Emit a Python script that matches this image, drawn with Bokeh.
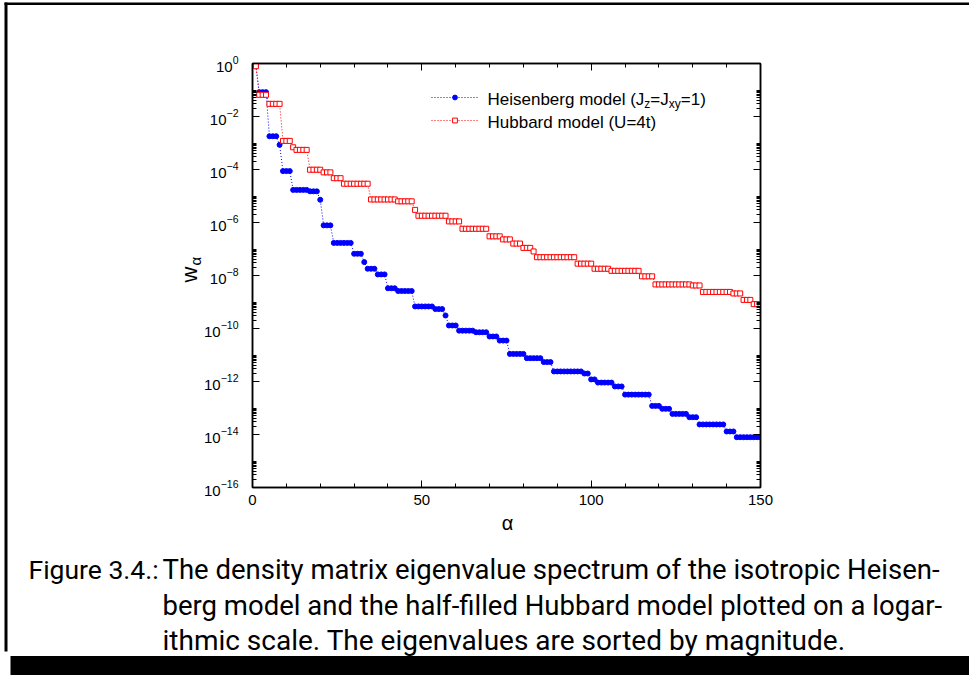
import math
from bokeh.plotting import figure
from bokeh.models import (Range1d, LinearAxis, LogAxis, FixedTicker, SingleIntervalTicker,
                          Label, Legend, LegendItem, BoxAnnotation, CustomJSTickFormatter,
                          LogTickFormatter, GridBox)
from bokeh.embed import file_html
from bokeh.resources import INLINE

# ---------------- data ----------------
alpha = list(range(1, 151))

heisenberg = [
    8.3e-1,
    8.3e-2, 8.3e-2, 8.3e-2,
    1.8e-3, 1.8e-3, 1.8e-3,
    8.5e-4,
    8.7e-5, 8.7e-5, 8.7e-5,
    1.7e-5, 1.7e-5, 1.7e-5, 1.7e-5, 1.7e-5,
    1.5e-5, 1.5e-5, 1.5e-5,
    7.2e-6,
    7.8e-7, 7.8e-7, 7.8e-7,
    1.7e-7, 1.7e-7, 1.7e-7, 1.7e-7, 1.7e-7, 1.7e-7,
    6.6e-8, 6.6e-8, 6.6e-8,
    3.2e-8,
    1.8e-8, 1.8e-8, 1.8e-8,
    1.1e-8, 1.1e-8, 1.1e-8,
    3.3e-9, 3.3e-9, 3.3e-9,
    2.6e-9, 2.6e-9, 2.6e-9, 2.6e-9, 2.6e-9,
    6.8e-10, 6.8e-10, 6.8e-10, 6.8e-10, 6.8e-10, 6.8e-10,
    5.4e-10, 5.4e-10, 5.4e-10,
    3.1e-10,
    1.3e-10, 1.3e-10, 1.3e-10,
    8.3e-11, 8.3e-11, 8.3e-11, 8.3e-11, 8.3e-11,
    7.2e-11, 7.2e-11, 7.2e-11, 7.2e-11,
    5.0e-11, 5.0e-11, 5.0e-11,
    3.5e-11, 3.5e-11, 3.5e-11,
    1.1e-11, 1.1e-11, 1.1e-11, 1.1e-11, 1.1e-11,
    7.6e-12, 7.6e-12, 7.6e-12, 7.6e-12, 7.6e-12,
    5.4e-12, 5.4e-12, 5.4e-12,
    2.4e-12, 2.4e-12, 2.4e-12, 2.4e-12, 2.4e-12, 2.4e-12, 2.4e-12, 2.4e-12, 2.4e-12,
    2.0e-12, 2.0e-12,
    1.2e-12, 1.2e-12,
    9.1e-13, 9.1e-13, 9.1e-13, 9.1e-13, 9.1e-13,
    6.5e-13, 6.5e-13, 6.5e-13,
    3.2e-13, 3.2e-13, 3.2e-13, 3.2e-13, 3.2e-13, 3.2e-13, 3.2e-13, 3.2e-13,
    1.2e-13, 1.2e-13, 1.2e-13,
    9.3e-14, 9.3e-14, 9.3e-14,
    6.0e-14, 6.0e-14, 6.0e-14, 6.0e-14, 6.0e-14,
    4.5e-14, 4.5e-14, 4.5e-14,
    2.4e-14, 2.4e-14, 2.4e-14, 2.4e-14, 2.4e-14, 2.4e-14, 2.4e-14, 2.4e-14,
    1.3e-14, 1.3e-14, 1.3e-14,
    7.9e-15, 7.9e-15, 7.9e-15, 7.9e-15, 7.9e-15, 7.9e-15, 7.9e-15, 7.9e-15,
]

hubbard = [
    7.9e-1,
    6.6e-2, 6.6e-2, 6.6e-2,
    3.0e-2, 3.0e-2, 3.0e-2, 3.0e-2,
    1.2e-3, 1.2e-3, 1.2e-3,
    6.9e-4,
    5.5e-4, 5.5e-4, 5.5e-4, 5.5e-4,
    9.8e-5, 9.8e-5, 9.8e-5, 9.8e-5,
    7.8e-5, 7.8e-5, 7.8e-5,
    4.7e-5, 4.7e-5, 4.7e-5,
    2.9e-5, 2.9e-5, 2.9e-5, 2.9e-5, 2.9e-5, 2.9e-5, 2.9e-5, 2.9e-5,
    7.4e-6, 7.4e-6, 7.4e-6, 7.4e-6, 7.4e-6, 7.4e-6, 7.4e-6, 7.4e-6,
    6.3e-6, 6.3e-6, 6.3e-6, 6.3e-6, 6.3e-6,
    3.0e-6,
    1.8e-6, 1.8e-6, 1.8e-6, 1.8e-6, 1.8e-6, 1.8e-6, 1.8e-6, 1.8e-6, 1.8e-6,
    1.1e-6, 1.1e-6, 1.1e-6, 1.1e-6,
    5.8e-7, 5.8e-7, 5.8e-7, 5.8e-7, 5.8e-7, 5.8e-7, 5.8e-7, 5.8e-7,
    3.0e-7, 3.0e-7, 3.0e-7, 3.0e-7,
    2.3e-7, 2.3e-7, 2.3e-7,
    1.6e-7, 1.6e-7, 1.6e-7,
    1.1e-7, 1.1e-7, 1.1e-7,
    8.1e-8,
    4.9e-8, 4.9e-8, 4.9e-8, 4.9e-8, 4.9e-8, 4.9e-8, 4.9e-8, 4.9e-8, 4.9e-8, 4.9e-8, 4.9e-8, 4.9e-8,
    2.8e-8, 2.8e-8, 2.8e-8, 2.8e-8, 2.8e-8,
    1.8e-8, 1.8e-8, 1.8e-8, 1.8e-8, 1.8e-8,
    1.5e-8, 1.5e-8, 1.5e-8, 1.5e-8, 1.5e-8, 1.5e-8, 1.5e-8, 1.5e-8, 1.5e-8,
    9.3e-9, 9.3e-9, 9.3e-9, 9.3e-9,
    4.6e-9, 4.6e-9, 4.6e-9, 4.6e-9, 4.6e-9, 4.6e-9, 4.6e-9, 4.6e-9, 4.6e-9, 4.6e-9, 4.6e-9,
    4.2e-9, 4.2e-9, 4.2e-9,
    2.4e-9, 2.4e-9, 2.4e-9, 2.4e-9, 2.4e-9, 2.4e-9, 2.4e-9, 2.4e-9, 2.4e-9,
    2.1e-9, 2.1e-9, 2.1e-9,
    1.2e-9, 1.2e-9, 1.2e-9,
    8.3e-10, 8.3e-10, 8.3e-10,
]

x_tick_values = [0, 50, 100, 150]
y_major_ticks = [1e0, 1e-2, 1e-4, 1e-6, 1e-8, 1e-10, 1e-12, 1e-14, 1e-16]
y_minor_ticks = [j * m for m in y_major_ticks[1:] for j in range(2, 11)]

heis_label_pieces = ["Heisenberg model (J", "z", "=J", "xy", "=1)"]
hubbard_name = "Hubbard model (U=4t)"
x_label = "\u03b1"
y_label_main = "w"
y_label_sub = "\u03b1"
caption_tag = "Figure 3.4.:"
caption_lines = [
    "The density matrix eigenvalue spectrum of the isotropic Heisen-",
    "berg model and the half-filled Hubbard model plotted on a logar-",
    "ithmic scale.  The eigenvalues are sorted by magnitude.",
]

# ---------------- layout ----------------
W, H = 969, 675
FL, FR, FT, FB = 252, 760, 63, 487   # frame edges in canvas pixels

def sx(px):
    return px - FL

def sy(py):
    return FB - py

p = figure(width=W, height=H, x_range=Range1d(0, 150), y_range=Range1d(1e-16, 1e0),
           y_axis_type="log", output_backend="svg", toolbar_location=None,
           min_border_left=FL, min_border_right=W - FR, min_border_top=FT,
           min_border_bottom=H - FB)
p.grid.visible = False
p.background_fill_color = "white"
p.border_fill_color = "white"
p.outline_line_color = "black"
p.outline_line_width = 1.5

TICK_FONT = "Liberation Sans"

def style_axis(ax):
    ax.axis_line_color = "black"
    ax.axis_line_width = 1.5
    ax.major_tick_line_color = "black"
    ax.major_tick_line_width = 1
    ax.minor_tick_line_color = "black"
    ax.minor_tick_line_width = 1
    ax.major_tick_in = 7
    ax.major_tick_out = 0
    ax.minor_tick_in = 4
    ax.minor_tick_out = 0
    ax.major_label_text_font = TICK_FONT
    ax.major_label_text_font_size = "15px"
    ax.major_label_text_color = "black"

xax = p.xaxis[0]
xax.ticker = SingleIntervalTicker(interval=50, num_minor_ticks=5)
style_axis(xax)
xax.major_label_standoff = 7

yax = p.yaxis[0]
yax.ticker = FixedTicker(ticks=y_major_ticks, minor_ticks=y_minor_ticks)
yax.formatter = LogTickFormatter()
style_axis(yax)
yax.major_label_standoff = 14

blank = CustomJSTickFormatter(code="return ''")
top_ax = LinearAxis(ticker=SingleIntervalTicker(interval=50, num_minor_ticks=5), formatter=blank)
style_axis(top_ax)
top_ax.major_label_standoff = 0
p.add_layout(top_ax, "above")

right_ax = LogAxis(ticker=FixedTicker(ticks=y_major_ticks, minor_ticks=y_minor_ticks), formatter=blank)
style_axis(right_ax)
right_ax.major_label_standoff = 0
p.add_layout(right_ax, "right")

BLUE = "#0000ff"
RED = "#ff0000"

h_line = p.line(alpha, heisenberg, line_color=BLUE, line_width=1, line_dash="1 2")
h_pts = p.scatter(alpha, heisenberg, marker="circle", size=5, fill_color=BLUE, line_color=BLUE)
u_line = p.line(alpha, hubbard, line_color=RED, line_width=1, line_dash="1 2")
u_pts = p.scatter(alpha, hubbard, marker="square", size=5, fill_color="white",
                  line_color=RED, line_width=1)

legend = Legend(items=[LegendItem(label="", renderers=[h_line, h_pts]),
                       LegendItem(label="", renderers=[u_line, u_pts])],
                location=(sx(431), sy(130)), glyph_width=47, glyph_height=12,
                label_height=20, label_width=0, label_standoff=0, spacing=3,
                padding=0, margin=0, border_line_alpha=0, background_fill_alpha=0)
p.add_layout(legend)

# legend texts with subscripts (Arial / Liberation Sans advance widths)
ADV = {' ': 278, '(': 333, ')': 333, '=': 584, '1': 556, '4': 556, 'H': 722, 'J': 500,
       'U': 722, 'a': 556, 'b': 556, 'd': 556, 'e': 556, 'g': 556, 'i': 222, 'l': 222,
       'm': 833, 'n': 556, 'o': 556, 'r': 333, 's': 500, 't': 278, 'u': 556, 'x': 500,
       'y': 500, 'z': 500, 'w': 722}

def tw(s, size):
    return sum(ADV.get(c, 556) for c in s) * size / 1000.0

LEG_FONT = 17
SUB_FONT = 12
x0 = 487
base1 = 99
for i, piece in enumerate(heis_label_pieces):
    sub = (i % 2 == 1)
    fs = SUB_FONT if sub else LEG_FONT
    p.add_layout(Label(x=sx(x0), y=sy(base1 + (4 if sub else 0)), x_units="screen",
                       y_units="screen", text=piece, text_font=TICK_FONT,
                       text_font_size=f"{fs}px", text_color="black",
                       text_align="left", text_baseline="alphabetic"))
    x0 += tw(piece, fs)

p.add_layout(Label(x=sx(487), y=sy(122), x_units="screen", y_units="screen",
                   text=hubbard_name, text_font=TICK_FONT, text_font_size=f"{LEG_FONT}px",
                   text_color="black", text_align="left", text_baseline="alphabetic"))

# ---------------- page overlay (axis titles, caption, page border) ----------------
page = figure(width=W, height=H, x_range=Range1d(0, W), y_range=Range1d(H, 0),
              output_backend="svg", toolbar_location=None,
              x_axis_location=None, y_axis_location=None,
              min_border=0, min_border_left=0, min_border_right=0,
              min_border_top=0, min_border_bottom=0)
page.grid.visible = False
page.outline_line_color = None
page.background_fill_alpha = 0
page.border_fill_alpha = 0

for fig in (p, page):
    try:
        fig.frame_align = False
    except Exception:
        pass

page.add_layout(Label(x=507, y=522, text=x_label, text_font=TICK_FONT,
                      text_font_size="20px", text_color="black",
                      text_align="center", text_baseline="alphabetic"))
page.add_layout(Label(x=189, y=282, text=y_label_main, text_font=TICK_FONT,
                      text_font_size="22px", angle=math.pi / 2, text_color="black",
                      text_align="left", text_baseline="alphabetic"))
page.add_layout(Label(x=194.5, y=282 - tw("w", 22) - 1, text=y_label_sub, text_font=TICK_FONT,
                      text_font_size="15px", angle=math.pi / 2, text_color="black",
                      text_align="left", text_baseline="alphabetic"))

CAP_FONT = "Roboto"
CAP_BASE = 569
CAP_STEP = 35.5
page.add_layout(Label(x=28, y=CAP_BASE, text=caption_tag, text_font=CAP_FONT,
                      text_font_size="26.5px", text_color="black",
                      text_align="left", text_baseline="alphabetic"))
caption_sizes = ["27.5px", "27.5px", "28px"]
for k, line in enumerate(caption_lines):
    page.add_layout(Label(x=162, y=CAP_BASE + CAP_STEP * k, text=line, text_font=CAP_FONT,
                          text_font_size=caption_sizes[k], text_color="black",
                          text_align="left", text_baseline="alphabetic"))

def box(l, r, t, b):
    page.add_layout(BoxAnnotation(left=l, right=r, top=t, bottom=b,
                                  fill_color="black", fill_alpha=1.0, line_alpha=0))

box(4, 975, 2, 4.5)
box(4, 7, 2, 651)
box(10, 975, 655.5, 680)

layout = GridBox(children=[(p, 0, 0), (page, 0, 0)])

open("out.html", "w").write(file_html(layout, INLINE))
